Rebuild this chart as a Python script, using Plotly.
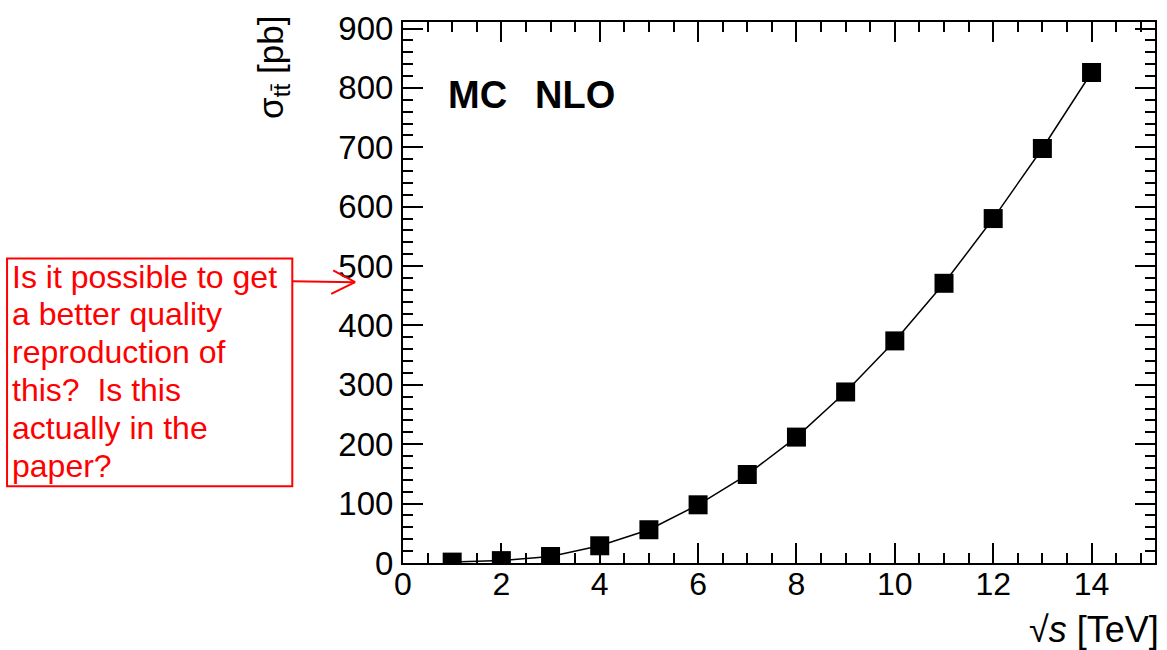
import plotly.graph_objects as go

# ---- data ----
sqrt_s = [1, 2, 3, 4, 5, 6, 7, 8, 9, 10, 11, 12, 13, 14]
sigma_tt = [1.5, 4, 11, 29, 56, 98, 149, 212, 288, 374, 471, 580, 698, 826]
x_range = [0, 15.29]
y_range = [0, 911]
note_lines = ["Is it possible to get", "a better quality", "reproduction of",
              "this?  Is this", "actually in the", "paper?"]

# ---- geometry (pixels) ----
W, H = 1167, 650
L, R, T, B = 403, 10, 14, 87
PW, PH = W - L - R, H - T - B

def px(x):
    return (x - L) / PW

def py(y):
    return (H - B - y) / PH

FONT = "Liberation Sans, Arial, sans-serif"

fig = go.Figure()
fig.add_trace(go.Scatter(
    x=sqrt_s, y=sigma_tt, mode="lines+markers",
    line=dict(color="black", width=1.5),
    marker=dict(symbol="square", size=19, color="black"),
    showlegend=False,
))

axis_common = dict(
    showline=True, linecolor="black", linewidth=2, mirror="ticks",
    ticks="inside", tickcolor="black", tickwidth=2, ticklen=20,
    showgrid=False, zeroline=False,
)

fig.update_xaxes(
    range=x_range, dtick=2, tick0=0,
    tickfont=dict(family=FONT, size=32, color="black"),
    ticklabelstandoff=-8,
    minor=dict(ticks="inside", ticklen=10, dtick=0.5, tickcolor="black", tickwidth=2, showgrid=False),
    **axis_common,
)
fig.update_yaxes(
    range=y_range, dtick=100, tick0=0,
    tickfont=dict(family=FONT, size=33, color="black"),
    ticklabelstandoff=1,
    minor=dict(ticks="inside", ticklen=10, dtick=20, tickcolor="black", tickwidth=2, showgrid=False),
    **axis_common,
)

annotations = []
# axis titles
annotations.append(dict(
    xref="paper", yref="paper", x=px(1163), y=py(630), xanchor="right", yanchor="middle",
    text="√<i>s</i> [TeV]", showarrow=False, font=dict(family=FONT, size=36, color="black")))
annotations.append(dict(
    xref="paper", yref="paper", x=px(272), y=py(6), xanchor="center", yanchor="top",
    text="σ<sub>tt̄</sub> [pb]", textangle=-90, showarrow=False,
    font=dict(family=FONT, size=35, color="black")))
# MC NLO
annotations.append(dict(
    xref="paper", yref="paper", x=px(446), y=py(88), xanchor="left", yanchor="middle",
    text="<b>MC</b>", showarrow=False, font=dict(family=FONT, size=38, color="black")))
annotations.append(dict(
    xref="paper", yref="paper", x=px(533), y=py(88), xanchor="left", yanchor="middle",
    text="<b>NLO</b>", showarrow=False, font=dict(family=FONT, size=38, color="black")))
# red note
for i, line in enumerate(note_lines):
    baseline = 283.3 + 38.4 * i
    annotations.append(dict(
        xref="paper", yref="paper", x=px(9), y=py(baseline - 11), xanchor="left", yanchor="middle",
        text=line, showarrow=False, font=dict(family=FONT, size=32, color="red")))

shapes = [
    dict(type="rect", xref="paper", yref="paper", x0=px(6), x1=px(292), y0=py(485), y1=py(254),
         line=dict(color="red", width=2)),
    dict(type="line", xref="paper", yref="paper", x0=px(292), x1=px(355), y0=py(277), y1=py(278),
         line=dict(color="red", width=2)),
    dict(type="line", xref="paper", yref="paper", x0=px(333), x1=px(355), y0=py(266), y1=py(278),
         line=dict(color="red", width=2)),
    dict(type="line", xref="paper", yref="paper", x0=px(331), x1=px(355), y0=py(290), y1=py(278),
         line=dict(color="red", width=2)),
]

fig.update_layout(
    width=W, height=H, autosize=False,
    margin=dict(l=L, r=R, t=T, b=B, pad=0),
    paper_bgcolor="white", plot_bgcolor="white",
    annotations=annotations, shapes=shapes,
    font=dict(family=FONT, color="black"),
)

fig.write_html("out.html", config={"displayModeBar": False},
               post_script="document.body.style.margin='0';")
